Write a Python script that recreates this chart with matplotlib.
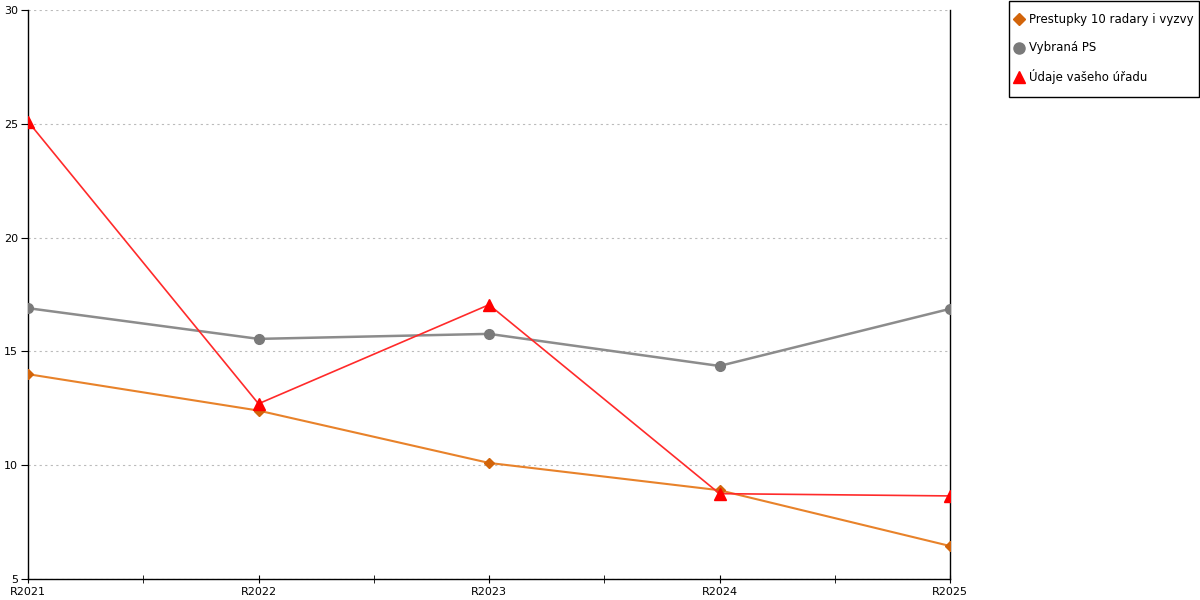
import matplotlib.pyplot as plt
from matplotlib.patches import Rectangle

years = ['R2021', 'R2022', 'R2023', 'R2024', 'R2025']
prestupky = [14.0, 12.4, 10.1, 8.9, 6.45]
vybrana_ps = [16.9, 15.55, 15.77, 14.36, 16.87]
udaje_uradu = [25.1, 12.7, 17.05, 8.75, 8.65]

series_names = ['Prestupky 10 radary i vyzvy', 'Vybraná PS', 'Údaje vašeho úřadu']

plt.rcParams['font.family'] = 'DejaVu Sans'
plt.rcParams['font.size'] = 8

fig = plt.figure(figsize=(12, 6), dpi=100)
ax = fig.add_axes([28/1200, 21/600, 922/1200, 569/600])

x = range(len(years))
ax.plot(x, prestupky, color='#e8822a', lw=1.5, marker='D', ms=5,
        mfc='#d2640a', mec='#d2640a', zorder=3)
ax.plot(x, vybrana_ps, color='#8c8c8c', lw=1.8, marker='o', ms=7,
        mfc='#7a7a7a', mec='#7a7a7a', zorder=3)
ax.plot(x, udaje_uradu, color='#ff2a2a', lw=1.2, marker='^', ms=8,
        mfc='#ff0000', mec='#ff0000', zorder=4)

ax.set_xlim(0, 4)
ax.set_ylim(5, 30)
ax.set_yticks([5, 10, 15, 20, 25, 30])
ax.set_xticks(list(x))
ax.set_xticklabels(years)
ax.set_xticks([0.5, 1.5, 2.5, 3.5], minor=True)
ax.yaxis.grid(True, linestyle=(0, (2, 3)), color='#bbbbbb', lw=0.8)
ax.set_axisbelow(True)

ax.spines['top'].set_visible(False)
for s in ['left', 'right', 'bottom']:
    ax.spines[s].set_color('black')
    ax.spines[s].set_linewidth(1)

ax.tick_params(axis='x', which='both', length=6, direction='inout', pad=3)
ax.tick_params(axis='y', length=5, direction='out', pad=2)

# legend drawn by hand to match the boxed layout
fig.patches.append(Rectangle((1009/1200, 1 - 97/600), 190/1200, 96/600,
                             transform=fig.transFigure, fill=False,
                             edgecolor='black', lw=1))
markers = [('D', 6, '#d2640a'), ('o', 8, '#7a7a7a'), ('^', 9, '#ff0000')]
for i, (name, (m, ms, c)) in enumerate(zip(series_names, markers)):
    yy = 1 - (19 + 29 * i) / 600
    fig.add_artist(plt.Line2D([1019/1200], [yy], marker=m, ms=ms, color=c,
                              ls='none', transform=fig.transFigure))
    fig.text(1029/1200, yy, name, fontsize=8.5, va='center', ha='left')

fig.savefig('out.png', dpi=100)
